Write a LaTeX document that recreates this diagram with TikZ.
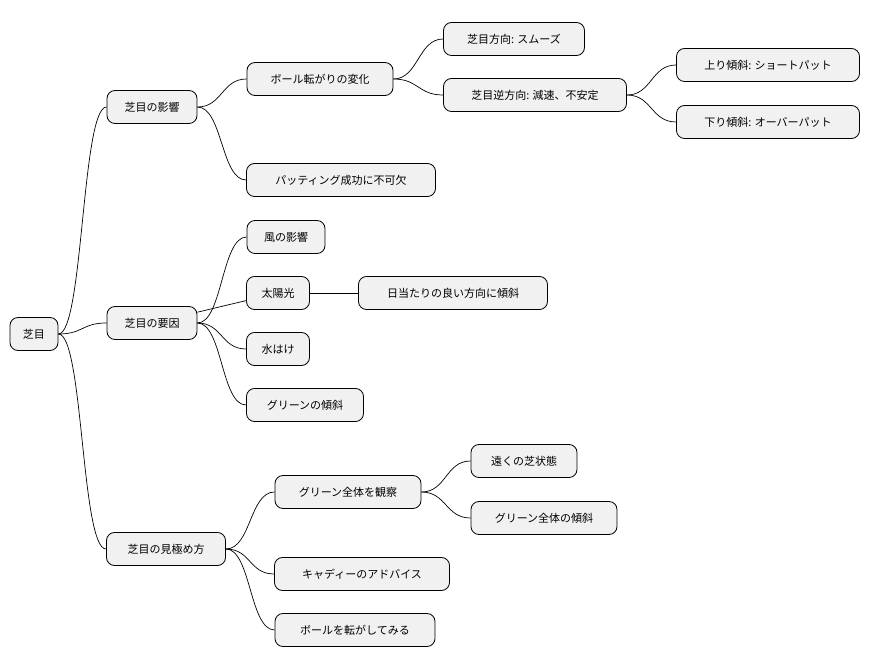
\documentclass[tikz,border=0pt]{standalone}
\usepackage{fontspec}
\setmainfont{Noto Sans CJK JP}
\begin{document}
\begin{tikzpicture}[x=1pt,y=-1pt,
  box/.style={draw=black,line width=0.8pt,fill={rgb,255:red,241;green,241;blue,241},rounded corners=8pt,minimum height=33pt,inner sep=0pt,font=\fontsize{11}{13}\selectfont,anchor=center},
  ln/.style={line width=0.7pt}]
\useasboundingbox (0,0) rectangle (871,668);
\node[box,minimum width=48pt] (r) at (34,334) {芝目};
\node[box,minimum width=90pt] (a) at (152,107) {芝目の影響};
\node[box,minimum width=146pt] (a1) at (320,79) {ボール転がりの変化};
\node[box,minimum width=141pt] (a11) at (514,39) {芝目方向: スムーズ};
\node[box,minimum width=183pt] (a12) at (535,95) {芝目逆方向: 減速、不安定};
\node[box,minimum width=183pt] (a121) at (768,65) {上り傾斜: ショートパット};
\node[box,minimum width=183pt] (a122) at (768,122) {下り傾斜: オーバーパット};
\node[box,minimum width=189pt] (a2) at (341,180) {パッティング成功に不可欠};
\node[box,minimum width=90pt] (b) at (152,323) {芝目の要因};
\node[box,minimum width=78pt] (b1) at (286,237) {風の影響};
\node[box,minimum width=63pt] (b2) at (278,293) {太陽光};
\node[box,minimum width=189pt] (b21) at (453,293) {日当たりの良い方向に傾斜};
\node[box,minimum width=63pt] (b3) at (278,349) {水はけ};
\node[box,minimum width=117pt] (b4) at (305,405) {グリーンの傾斜};
\node[box,minimum width=119pt] (c) at (166,549) {芝目の見極め方};
\node[box,minimum width=146pt] (c1) at (348,492) {グリーン全体を観察};
\node[box,minimum width=106pt] (c11) at (524,461) {遠くの芝状態};
\node[box,minimum width=146pt] (c12) at (544,518) {グリーン全体の傾斜};
\node[box,minimum width=175pt] (c2) at (362,574) {キャディーのアドバイス};
\node[box,minimum width=160pt] (c3) at (355,630) {ボールを転がしてみる};
\foreach \p/\c in {r/a,r/b,r/c,a/a1,a/a2,a1/a11,a1/a12,a12/a121,a12/a122,b/b1,b/b3,b/b4,c/c1,c/c2,c/c3,c1/c11,c1/c12}
  \draw[ln] (\p.east) .. controls +(25,0) and +(-25,0) .. (\c.west);
\draw[ln] (b) -- (b2);
\draw[ln] (b2) -- (b21);
\end{tikzpicture}
\end{document}
